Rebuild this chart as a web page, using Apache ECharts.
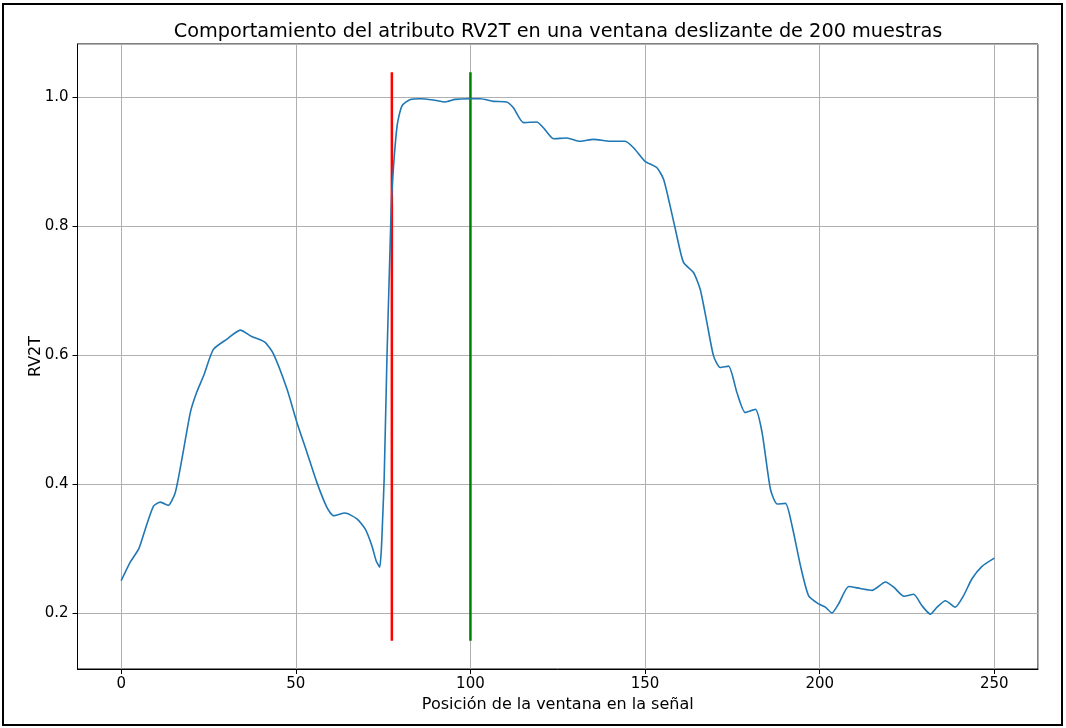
<!DOCTYPE html>
<html>
<head>
<meta charset="utf-8">
<script src="https://cdn.jsdelivr.net/npm/echarts@6/dist/echarts.min.js"></script>
<style>
  html, body { margin: 0; padding: 0; background: #ffffff; }
  #chart { width: 1066px; height: 728px; }
</style>
</head>
<body>
<div id="chart"></div>
<script>
// ---- Data ----
const titleText = 'Comportamiento del atributo RV2T en una ventana deslizante de 200 muestras';
const xAxisLabel = 'Posición de la ventana en la señal';
const yAxisLabel = 'RV2T';

// window position (x) and RV2T value (y)
const positions = [
  0, 2.6, 5, 6.9, 9.3, 11.2, 13.5, 15.5, 17.4, 19.8,
  21.6, 23.6, 26.4, 30.3, 34.1, 37.4, 41.2, 43.6, 47.5, 50.3,
  53.2, 56, 58.9, 60.8, 64.1, 67.5, 69.9, 71.8, 73, 74,
  74.5, 74.9, 75.3, 76.1, 77, 77.5, 79, 80.4, 82.8, 85.6,
  89.4, 92.8, 95.6, 100, 102.8, 106.6, 110.4, 112.3, 115.2, 119,
  120.9, 123.8, 127.6, 131.4, 135.2, 140, 144.3, 146.7, 150, 153.4,
  155.3, 157.2, 159.1, 161, 163.9, 165.8, 167.7, 169.6, 171.5, 173.9,
  176.3, 178.7, 181.6, 183.5, 185.9, 187.8, 190.2, 192.1, 194.5, 196.8,
  199.7, 201.6, 203.5, 205.4, 208.3, 211.6, 215, 218.8, 221.2, 224.1,
  226.9, 229.3, 231.7, 233.6, 236, 238.8, 241.2, 243.6, 246.4, 250
];
const rv2t = [
  0.250, 0.279, 0.299, 0.330, 0.366, 0.372, 0.367, 0.387, 0.439, 0.511,
  0.542, 0.568, 0.609, 0.625, 0.639, 0.629, 0.620, 0.602, 0.547, 0.496,
  0.449, 0.403, 0.364, 0.351, 0.355, 0.346, 0.330, 0.304, 0.281, 0.271,
  0.299, 0.351, 0.408, 0.596, 0.769, 0.852, 0.956, 0.987, 0.997, 0.998,
  0.996, 0.993, 0.997, 0.998, 0.998, 0.994, 0.993, 0.984, 0.961, 0.962,
  0.953, 0.936, 0.937, 0.932, 0.935, 0.932, 0.932, 0.922, 0.901, 0.891,
  0.873, 0.831, 0.785, 0.744, 0.728, 0.702, 0.651, 0.599, 0.581, 0.583,
  0.542, 0.511, 0.516, 0.480, 0.392, 0.369, 0.370, 0.335, 0.273, 0.227,
  0.214, 0.209, 0.200, 0.214, 0.241, 0.238, 0.235, 0.248, 0.240, 0.226,
  0.229, 0.211, 0.198, 0.209, 0.219, 0.209, 0.227, 0.253, 0.272, 0.285
];

// vertical marker lines
const redLineX = 77.5;
const greenLineX = 100;
const markerYMin = 0.157;
const markerYMax = 1.039;

// axis extents (matplotlib-style 5% margins)
const xMin = -12.5, xMax = 262.5;
const yMin = 0.113, yMax = 1.083;

// ---- Build chart ----
const font = 'DejaVu Sans';
const curve = positions.map((x, i) => [x, rv2t[i]]);
const redLine = [[redLineX, markerYMin], [redLineX, markerYMax]];
const greenLine = [[greenLineX, markerYMin], [greenLineX, markerYMax]];

const chart = echarts.init(document.getElementById('chart'), null, { renderer: 'canvas' });
chart.setOption({
  animation: false,
  backgroundColor: '#ffffff',
  title: {
    text: titleText,
    left: 553,
    top: 17,
    textAlign: 'center',
    textStyle: { fontFamily: font, fontSize: 19.3, fontWeight: 'normal', color: '#000' }
  },
  grid: {
    left: 77.5, right: 28, top: 44, bottom: 59,
    show: true, borderColor: '#000', borderWidth: 1, backgroundColor: 'transparent'
  },
  xAxis: {
    type: 'value',
    min: xMin, max: xMax,
    splitNumber: 5,
    name: xAxisLabel,
    nameLocation: 'middle',
    nameGap: 28,
    nameMoveOverlap: false,
    nameTextStyle: { fontFamily: font, fontSize: 16, color: '#000' },
    axisLine: { show: true, onZero: false, lineStyle: { color: '#000', width: 1 } },
    axisTick: { show: true, length: 5, lineStyle: { color: '#000', width: 1 } },
    axisLabel: {
      showMinLabel: false, showMaxLabel: false, margin: 8,
      fontFamily: font, fontSize: 15, color: '#000'
    },
    splitLine: { show: true, lineStyle: { color: '#b0b0b0', width: 1 } }
  },
  yAxis: {
    type: 'value',
    min: yMin, max: yMax,
    splitNumber: 5,
    name: yAxisLabel,
    nameLocation: 'middle',
    nameGap: 34,
    nameMoveOverlap: false,
    nameTextStyle: { fontFamily: font, fontSize: 16, color: '#000' },
    axisLine: { show: true, onZero: false, lineStyle: { color: '#000', width: 1 } },
    axisTick: { show: true, length: 5, lineStyle: { color: '#000', width: 1 } },
    axisLabel: {
      showMinLabel: false, showMaxLabel: false, margin: 9,
      fontFamily: font, fontSize: 15, color: '#000',
      formatter: v => v.toFixed(1)
    },
    splitLine: { show: true, lineStyle: { color: '#b0b0b0', width: 1 } }
  },
  graphic: [{
    type: 'rect',
    shape: { x: 3, y: 4, width: 1059, height: 721 },
    style: { fill: 'none', stroke: '#000', lineWidth: 2 },
    silent: true
  }],
  series: [
    {
      type: 'line', data: curve, showSymbol: false, symbol: 'none',
      smooth: 0.2,
      lineStyle: { color: '#1f77b4', width: 1.6 }, z: 3
    },
    {
      type: 'line', data: redLine, showSymbol: false, symbol: 'none',
      lineStyle: { color: '#ff0000', width: 2.5 }, z: 2
    },
    {
      type: 'line', data: greenLine, showSymbol: false, symbol: 'none',
      lineStyle: { color: '#008000', width: 2.5 }, z: 2
    }
  ]
});
</script>
</body>
</html>
